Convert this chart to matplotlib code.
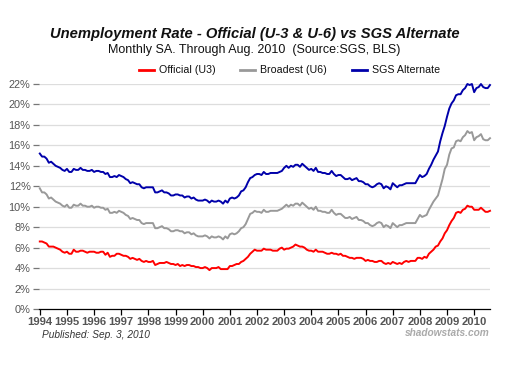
import numpy as np
import matplotlib
matplotlib.use("Agg")
import matplotlib.pyplot as plt
from matplotlib.lines import Line2D

plt.rcParams['font.family'] = ['Liberation Sans', 'DejaVu Sans']

# monthly values, Jan 1994 .. Aug 2010
u3 = [
    6.6, 6.6, 6.5, 6.4, 6.1, 6.1, 6.1, 6.0, 5.9, 5.8, 5.6, 5.5,   # 1994
    5.6, 5.4, 5.4, 5.8, 5.6, 5.6, 5.7, 5.7, 5.6, 5.5, 5.6, 5.6,   # 1995
    5.6, 5.5, 5.5, 5.6, 5.6, 5.3, 5.5, 5.1, 5.2, 5.2, 5.4, 5.4,   # 1996
    5.3, 5.2, 5.2, 5.1, 4.9, 5.0, 4.9, 4.8, 4.9, 4.7, 4.6, 4.7,   # 1997
    4.6, 4.6, 4.7, 4.3, 4.4, 4.5, 4.5, 4.5, 4.6, 4.5, 4.4, 4.4,   # 1998
    4.3, 4.4, 4.2, 4.3, 4.2, 4.3, 4.3, 4.2, 4.2, 4.1, 4.1, 4.0,   # 1999
    4.0, 4.1, 4.0, 3.8, 4.0, 4.0, 4.0, 4.1, 3.9, 3.9, 3.9, 3.9,   # 2000
    4.2, 4.2, 4.3, 4.4, 4.4, 4.6, 4.7, 4.9, 5.1, 5.4, 5.6, 5.8,   # 2001
    5.7, 5.7, 5.7, 5.9, 5.8, 5.8, 5.8, 5.7, 5.7, 5.7, 5.9, 6.0,   # 2002
    5.8, 5.9, 5.9, 6.0, 6.1, 6.3, 6.2, 6.1, 6.1, 6.0, 5.8, 5.7,   # 2003
    5.7, 5.6, 5.8, 5.6, 5.6, 5.6, 5.5, 5.4, 5.4, 5.5, 5.4, 5.4,   # 2004
    5.3, 5.4, 5.2, 5.2, 5.1, 5.0, 5.0, 4.9, 5.0, 5.0, 5.0, 4.9,   # 2005
    4.7, 4.8, 4.7, 4.7, 4.6, 4.6, 4.7, 4.7, 4.5, 4.4, 4.5, 4.4,   # 2006
    4.6, 4.5, 4.4, 4.5, 4.4, 4.6, 4.7, 4.6, 4.7, 4.7, 4.7, 5.0,   # 2007
    5.0, 4.9, 5.1, 5.0, 5.4, 5.6, 5.8, 6.1, 6.2, 6.6, 6.9, 7.4,   # 2008
    7.7, 8.2, 8.6, 8.9, 9.4, 9.5, 9.4, 9.7, 9.8, 10.1, 10.0, 10.0,  # 2009
    9.7, 9.7, 9.7, 9.9, 9.7, 9.5, 9.5, 9.6,                       # 2010
]
u6 = [
    11.8, 11.4, 11.4, 11.2, 10.8, 10.9, 10.7, 10.5, 10.4, 10.3, 10.1, 10.0,
    10.2, 9.9, 9.9, 10.2, 10.1, 10.1, 10.3, 10.1, 10.1, 10.0, 10.0, 10.1,
    9.9, 10.0, 10.0, 9.9, 9.9, 9.7, 9.8, 9.4, 9.4, 9.5, 9.4, 9.6,
    9.5, 9.4, 9.2, 9.1, 8.8, 8.9, 8.8, 8.7, 8.7, 8.4, 8.3, 8.4,
    8.4, 8.4, 8.4, 7.9, 7.9, 8.0, 8.1, 7.9, 7.9, 7.8, 7.6, 7.6,
    7.7, 7.7, 7.6, 7.6, 7.4, 7.5, 7.5, 7.3, 7.4, 7.2, 7.1, 7.1,
    7.1, 7.2, 7.1, 6.9, 7.1, 7.0, 7.0, 7.1, 7.0, 6.8, 7.1, 6.9,
    7.3, 7.4, 7.3, 7.4, 7.6, 7.9, 8.0, 8.3, 8.8, 9.3, 9.4, 9.6,
    9.5, 9.5, 9.4, 9.7, 9.5, 9.5, 9.6, 9.6, 9.6, 9.6, 9.7, 9.8,
    10.0, 10.2, 10.0, 10.2, 10.1, 10.3, 10.3, 10.1, 10.4, 10.2, 10.0, 9.8,
    9.9, 9.7, 10.0, 9.6, 9.6, 9.5, 9.5, 9.4, 9.4, 9.7, 9.4, 9.2,
    9.3, 9.3, 9.1, 8.9, 8.9, 9.0, 8.8, 8.9, 9.0, 8.7, 8.7, 8.6,
    8.4, 8.4, 8.2, 8.1, 8.2, 8.4, 8.5, 8.4, 8.0, 8.2, 8.1, 7.9,
    8.4, 8.2, 8.0, 8.2, 8.2, 8.3, 8.4, 8.4, 8.4, 8.4, 8.4, 8.8,
    9.2, 9.0, 9.1, 9.2, 9.7, 10.1, 10.5, 10.8, 11.1, 11.9, 12.7, 13.7,
    14.1, 15.1, 15.7, 15.8, 16.4, 16.5, 16.4, 16.8, 17.0, 17.4, 17.2, 17.3,
    16.5, 16.8, 16.9, 17.1, 16.6, 16.5, 16.5, 16.7,
]
sgs = [
    15.2, 14.9, 14.9, 14.7, 14.3, 14.4, 14.2, 14.0, 13.9, 13.8, 13.6, 13.5,
    13.7, 13.4, 13.4, 13.7, 13.6, 13.6, 13.8, 13.6, 13.6, 13.5, 13.5, 13.6,
    13.4, 13.5, 13.5, 13.4, 13.4, 13.2, 13.3, 12.9, 12.9, 13.0, 12.9, 13.1,
    13.0, 12.9, 12.7, 12.6, 12.3, 12.4, 12.3, 12.2, 12.2, 11.9, 11.8, 11.9,
    11.9, 11.9, 11.9, 11.4, 11.4, 11.5, 11.6, 11.4, 11.4, 11.3, 11.1, 11.1,
    11.2, 11.2, 11.1, 11.1, 10.9, 11.0, 11.0, 10.8, 10.9, 10.7, 10.6, 10.6,
    10.6, 10.7, 10.6, 10.4, 10.6, 10.5, 10.5, 10.6, 10.5, 10.3, 10.6, 10.4,
    10.8, 10.9, 10.8, 10.9, 11.1, 11.5, 11.6, 11.9, 12.4, 12.8, 12.9, 13.1,
    13.2, 13.2, 13.1, 13.4, 13.2, 13.2, 13.3, 13.3, 13.3, 13.3, 13.4, 13.5,
    13.8, 14.0, 13.8, 14.0, 13.9, 14.1, 14.1, 13.9, 14.2, 14.0, 13.8, 13.6,
    13.7, 13.5, 13.8, 13.4, 13.4, 13.3, 13.3, 13.2, 13.2, 13.5, 13.2, 13.0,
    13.1, 13.1, 12.9, 12.7, 12.7, 12.8, 12.6, 12.7, 12.8, 12.5, 12.5, 12.4,
    12.2, 12.2, 12.0, 11.9, 12.0, 12.2, 12.3, 12.2, 11.8, 12.0, 11.9, 11.7,
    12.3, 12.1, 11.9, 12.1, 12.1, 12.2, 12.3, 12.3, 12.3, 12.3, 12.3, 12.7,
    13.1, 12.9, 13.0, 13.2, 13.7, 14.1, 14.6, 15.0, 15.4, 16.4, 17.2, 17.9,
    18.8, 19.6, 20.1, 20.4, 20.9, 21.0, 21.0, 21.4, 21.6, 22.0, 21.9, 22.0,
    21.2, 21.6, 21.7, 22.0, 21.7, 21.6, 21.6, 21.9,
]
years = list(range(1994, 2011))
yticks = list(range(0, 24, 2))

t = 1994 + np.arange(len(u3)) / 12.0

fig = plt.figure(figsize=(5.05, 3.72), dpi=100)
ax = fig.add_axes([0.0772, 0.1694, 0.8931, 0.6048])

for yv in yticks[1:]:
    ax.axhline(yv, color='#dddddd', lw=0.9, zorder=1)

ax.plot(t, u3, color='#ff0000', lw=1.4, zorder=3, clip_on=False)
ax.plot(t, u6, color='#999999', lw=1.4, zorder=3, clip_on=False)
ax.plot(t, sgs, color='#0000aa', lw=1.4, zorder=3, clip_on=False)

ax.set_xlim(1993.97, t[-1])
ax.set_ylim(0, 22)
ax.set_xticks(years)
ax.set_xticklabels([str(y) for y in years], fontsize=8.1, fontweight='bold', color='#555555')
ax.set_yticks(yticks)
ax.set_yticklabels(['%d%%' % v for v in yticks], fontsize=7.9, color='#555555')
ax.tick_params(axis='x', length=4, width=0.9, color='black', pad=2)
ax.tick_params(axis='y', length=4, width=0.9, color='#777777', pad=2)
for s in ['top', 'right', 'left']:
    ax.spines[s].set_visible(False)
ax.spines['bottom'].set_color('black')
ax.spines['bottom'].set_linewidth(0.9)

fig.text(0.505, 0.909, 'Unemployment Rate - Official (U-3 & U-6) vs SGS Alternate',
         ha='center', va='center', fontsize=10.6, fontweight='bold', style='italic', color='#111111')
fig.text(0.503, 0.866, 'Monthly SA. Through Aug. 2010  (Source:SGS, BLS)',
         ha='center', va='center', fontsize=9.0, color='#111111')

# legend
leg = [('Official (U3)', '#ff0000', 139), ('Broadest (U6)', '#999999', 240), ('SGS Alternate', '#0000aa', 352)]
for label, c, x0 in leg:
    fig.add_artist(Line2D([x0 / 505, (x0 + 15) / 505], [1 - 70 / 372] * 2, color=c, lw=2))
    fig.text((x0 + 20) / 505, 1 - 70 / 372, label, ha='left', va='center', fontsize=7.7, color='#111111')

fig.text(42 / 505, 1 - 335 / 372, 'Published: Sep. 3, 2010', ha='left', va='center',
         fontsize=7.3, style='italic', color='#333333')
fig.text(490 / 505, 1 - 333 / 372, 'shadowstats.com', ha='right', va='center',
         fontsize=7.3, style='italic', fontweight='bold', color='#aaaaaa')

fig.savefig('out.png', dpi=100)
